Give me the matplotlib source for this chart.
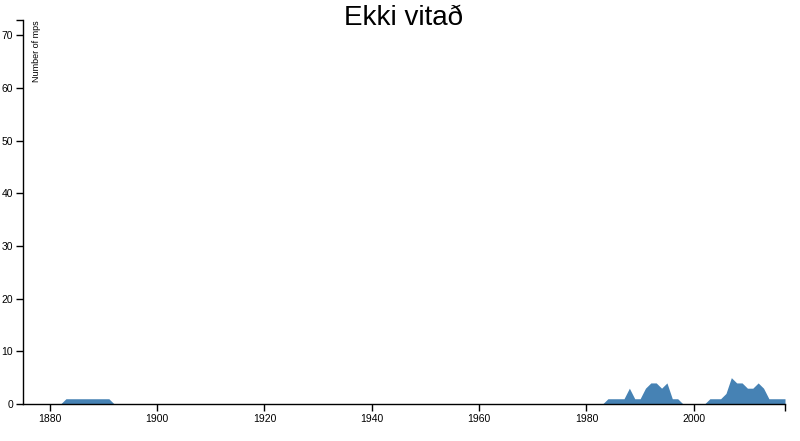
import matplotlib
matplotlib.use('Agg')
import matplotlib.pyplot as plt

plt.rcParams['font.family'] = ['Liberation Sans', 'DejaVu Sans']

# number of mps per year (missing years are 0)
years = list(range(1875, 2018))
counts_known = {
    1883: 1, 1884: 1, 1885: 1, 1886: 1, 1887: 1, 1888: 1, 1889: 1, 1890: 1, 1891: 1,
    1984: 1, 1985: 1, 1986: 1, 1987: 1, 1988: 3, 1989: 1, 1990: 1, 1991: 3,
    1992: 4, 1993: 4, 1994: 3, 1995: 4, 1996: 1, 1997: 1,
    2003: 1, 2004: 1, 2005: 1, 2006: 2, 2007: 5, 2008: 4, 2009: 4, 2010: 3,
    2011: 3, 2012: 4, 2013: 3, 2014: 1, 2015: 1, 2016: 1, 2017: 1,
}
counts = [counts_known.get(y, 0) for y in years]

x_min, x_max = 1875, 2017
y_max = 72.9

fig = plt.figure(figsize=(8, 4.41), dpi=100)
ax = fig.add_axes([23/800, 1 - 404/441, (785-23)/800, (404-20)/441])

ax.fill_between(years, counts, 0, color='#4682b4', linewidth=0)

ax.set_xlim(x_min, x_max)
ax.set_ylim(0, y_max)
ax.set_xticks(range(1880, 2001, 20))
ax.set_yticks(range(0, 71, 10))
ax.set_xticks([x_max], minor=True)
ax.set_yticks([y_max], minor=True)
ax.tick_params(axis='both', which='major', labelsize=7.5, length=5, width=1, pad=2)
ax.tick_params(axis='both', which='minor', length=5, width=1)

for s in ['top', 'right']:
    ax.spines[s].set_visible(False)
for s in ['left', 'bottom']:
    ax.spines[s].set_linewidth(1)

ax.text(0.012, 0.998, 'Number of mps', transform=ax.transAxes, rotation=90,
        ha='left', va='top', fontsize=6.5)

fig.text(404/800, 1 - 18/441, 'Ekki vitað', ha='center', va='center', fontsize=20)

fig.savefig('out.png', dpi=100)
